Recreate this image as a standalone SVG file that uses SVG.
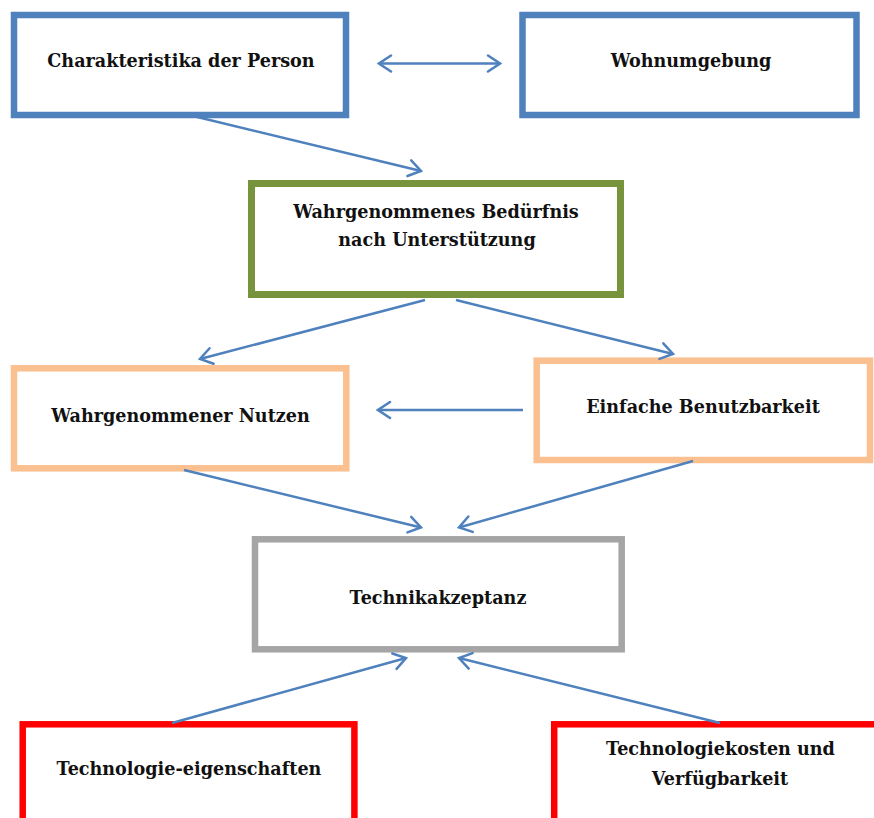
<svg xmlns="http://www.w3.org/2000/svg" width="874" height="818" viewBox="0 0 874 818">
<style>
  .box { fill: #ffffff; stroke-width: 6.5; }
  .blue { stroke: #4F81BD; }
  .green { stroke: #77933C; stroke-width: 7; }
  .peach { stroke: #FAC08F; }
  .gray { stroke: #A5A5A5; }
  .red { stroke: #FF0000; }
  .lbl { font-family: "DejaVu Serif", "Liberation Serif", serif; font-weight: bold; font-size: 17.6px; fill: #111111; text-anchor: middle; }
  .conn line { stroke: #4F81BD; stroke-width: 2.5; fill: none; marker-end: url(#ah); }
</style>
<defs>
  <marker id="ah" viewBox="0 0 16 20" refX="14" refY="10" markerWidth="16" markerHeight="20" markerUnits="userSpaceOnUse" orient="auto-start-reverse">
    <path d="M2,2 L14,10 L2,18" fill="none" stroke="#4F81BD" stroke-width="2.5" stroke-linecap="round" stroke-linejoin="miter"/>
  </marker>
</defs>
<rect width="874" height="818" fill="#ffffff"/>

<g id="charakteristika">
  <rect class="box blue" x="14" y="15" width="332" height="100"/>
  <text class="lbl" x="181" y="67">Charakteristika der Person</text>
</g>
<g id="wohnumgebung">
  <rect class="box blue" x="522.5" y="15" width="334" height="100"/>
  <text class="lbl" x="691" y="67">Wohnumgebung</text>
</g>
<g id="beduerfnis">
  <rect class="box green" x="251.5" y="183.5" width="369" height="111"/>
  <text class="lbl" x="436" y="218">Wahrgenommenes Bedürfnis</text>
  <text class="lbl" x="437" y="246">nach Unterstützung</text>
</g>
<g id="nutzen">
  <rect class="box peach" x="14" y="368.3" width="332.3" height="100"/>
  <text class="lbl" x="180.5" y="422">Wahrgenommener Nutzen</text>
</g>
<g id="benutzbarkeit">
  <rect class="box peach" x="536.7" y="360.7" width="333.3" height="99.3"/>
  <text class="lbl" x="703" y="413">Einfache Benutzbarkeit</text>
</g>
<g id="technikakzeptanz">
  <rect class="box gray" x="255" y="539.3" width="366.7" height="110"/>
  <text class="lbl" x="438" y="603.5">Technikakzeptanz</text>
</g>
<g id="eigenschaften">
  <rect class="box red" x="22.7" y="724.3" width="331.7" height="100"/>
  <text class="lbl" x="189" y="775">Technologie-eigenschaften</text>
</g>
<g id="kosten">
  <rect class="box red" x="554.2" y="724.3" width="332" height="100"/>
  <text class="lbl" x="720.5" y="755">Technologiekosten und</text>
  <text class="lbl" x="720" y="785">Verfügbarkeit</text>
</g>

<g id="connectors" class="conn">
  <line x1="379" y1="63.5" x2="500" y2="63.5" marker-start="url(#ah)"/>
  <line x1="191" y1="115.5" x2="421" y2="171"/>
  <line x1="425" y1="300" x2="200" y2="359"/>
  <line x1="456" y1="300" x2="673" y2="354"/>
  <line x1="523" y1="410" x2="378" y2="410"/>
  <line x1="184" y1="470" x2="421" y2="527.5"/>
  <line x1="693" y1="461" x2="459" y2="527.5"/>
  <line x1="172" y1="723" x2="406" y2="658"/>
  <line x1="720" y1="723" x2="459" y2="658"/>
</g>
</svg>
